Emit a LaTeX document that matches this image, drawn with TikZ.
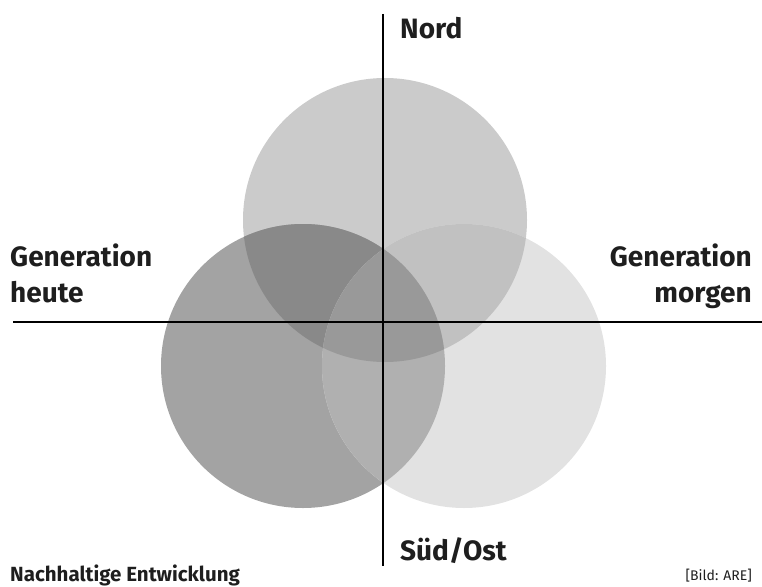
\documentclass[tikz,border=0pt]{standalone}
\usepackage{fontspec}
\setmainfont{Fira Sans}
\usetikzlibrary{positioning}
\definecolor{nordgray}{RGB}{203,203,203}
\definecolor{heutegray}{RGB}{163,163,163}
\definecolor{morgengray}{RGB}{226,226,226}
\definecolor{nhgray}{RGB}{137,137,137}
\definecolor{nmgray}{RGB}{193,193,193}
\definecolor{hmgray}{RGB}{176,176,176}
\definecolor{allgray}{RGB}{153,153,153}
\definecolor{textgray}{RGB}{30,30,30}
\tikzset{
  axis/.style={line width=2.5pt, black},
  biglabel/.style={font=\fontsize{28}{36}\selectfont\bfseries, text=textgray, inner sep=0pt},
  footlabel/.style={font=\fontsize{20.5}{24}\selectfont\bfseries, text=textgray, inner sep=0pt},
  creditlabel/.style={font=\fontsize{14}{16}\selectfont, text=textgray, inner sep=0pt}
}
\begin{document}
\begin{tikzpicture}[x=1pt, y=-1pt]
\useasboundingbox (0,0) rectangle (762,586);
% circle centres
\coordinate (cn) at (385,220);
\coordinate (ch) at (303,366);
\coordinate (cm) at (464,366);
\def\rad{142}

% single circles
\fill[nordgray] (cn) circle (\rad);
\fill[heutegray] (ch) circle (\rad);
\fill[morgengray] (cm) circle (\rad);
% overlaps
\begin{scope}
  \clip (cn) circle (\rad);
  \fill[nhgray] (ch) circle (\rad);
  \fill[nmgray] (cm) circle (\rad);
\end{scope}
\begin{scope}
  \clip (ch) circle (\rad);
  \fill[hmgray] (cm) circle (\rad);
  \clip (cm) circle (\rad);
  \fill[allgray] (cn) circle (\rad);
\end{scope}

% axes
\coordinate (top) at (383,14);
\coordinate (bottom) at (383,566);
\coordinate (left) at (13,322);
\coordinate (right) at (762,322);
\draw[axis] (top) -- (bottom);
\draw[axis] (left) -- (right);

% labels
\node[biglabel, anchor=base west] (nord) at (400,38) {Nord};
\node[biglabel, anchor=base west] (sued) at (400,560) {Süd/Ost};
\node[biglabel, anchor=base west, align=left] (heute) at (10,302) {Generation\\heute};
\node[biglabel, anchor=base east, align=right] (morgen) at (752,302) {Generation\\morgen};
\node[footlabel, anchor=base west] (title) at (10,581) {Nachhaltige Entwicklung};
\node[creditlabel, anchor=base east] (credit) at (752,580) {[Bild: ARE]};
\end{tikzpicture}
\end{document}
